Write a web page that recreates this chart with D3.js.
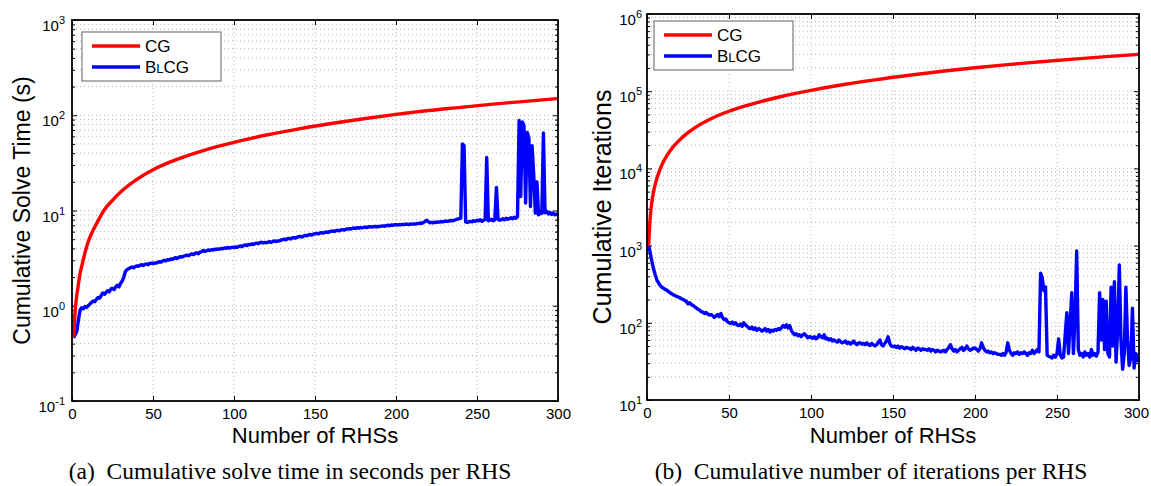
<!DOCTYPE html>
<html>
<head>
<meta charset="utf-8">
<script src="https://cdnjs.cloudflare.com/ajax/libs/d3/7.8.5/d3.min.js"></script>
<style>
body { margin: 0; background: #fff; }
svg { display: block; }
.axis text, .tick-label { font-family: "Liberation Sans", Arial, sans-serif; font-size: 15px; fill: #000; }
.axis path { display: none; }
.axis line { stroke: #000; stroke-width: 1; }
.grid line { stroke: #b4b4b4; stroke-width: 1; stroke-dasharray: 1,3; }
.label { font-family: "Liberation Sans", Arial, sans-serif; font-size: 22px; fill: #000; }
.legend text { font-family: "Liberation Sans", Arial, sans-serif; font-size: 17px; fill: #000; }
.caption { font-family: "Liberation Serif", "Times New Roman", serif; font-size: 23.5px; fill: #000; }
.line { fill: none; stroke-width: 3.4; stroke-linejoin: round; }
</style>
</head>
<body>
<svg width="1151" height="486"></svg>
<script>
"use strict";

var xTicks = [0, 50, 100, 150, 200, 250, 300];

// CG curves are smooth, sampled at these RHS counts
var cgRhs = [1, 2, 3, 4, 5, 6, 8, 10, 12, 15, 20, 25, 30, 40, 50, 60, 70, 80, 90, 100,
    120, 140, 160, 180, 200, 220, 240, 260, 280, 300];

var cgTime = [0.47, 0.9, 1.3, 1.7, 2.2, 2.6, 3.6, 4.7, 5.7, 7.2, 10.2, 12.8, 15.6, 21.2, 26.8, 32, 37, 42, 47, 52,
    62, 72, 82, 92, 102, 112, 121, 131, 140, 150];

var cgIter = [1000, 2400, 3700, 5000, 6200, 7400, 9800, 12200, 14500, 18000, 23500, 29000, 34500, 45000, 55000,
    64500, 74000, 83500, 93000, 102500, 122000, 141500, 161000, 181000, 201000, 221000, 241000, 260500, 280000, 300000];

// BlCG: one value per RHS (1..300)
var blcgTime = [
    0.46, 0.50, 0.54, 0.72, 0.90, 0.95, 0.93, 0.98, 0.96, 1.00,
    1.04, 1.08, 1.12, 1.10, 1.16, 1.22, 1.20, 1.28, 1.36, 1.32,
    1.38, 1.44, 1.40, 1.50, 1.52, 1.48, 1.58, 1.64, 1.58, 1.72,
    1.82, 2.00, 2.30, 2.40, 2.45, 2.50, 2.55, 2.50, 2.58, 2.62,
    2.60, 2.66, 2.70, 2.64, 2.72, 2.75, 2.70, 2.78, 2.80, 2.76,
    2.82, 2.80, 2.86, 2.90, 2.88, 2.95, 3.00, 2.96, 3.05, 3.02,
    3.10, 3.06, 3.15, 3.20, 3.14, 3.22, 3.28, 3.24, 3.32, 3.36,
    3.40, 3.35, 3.45, 3.50, 3.44, 3.55, 3.60, 3.52, 3.65, 3.70,
    3.80, 3.72, 3.78, 3.85, 3.80, 3.88, 3.84, 3.92, 3.90, 3.95,
    3.92, 4.00, 3.96, 4.05, 4.00, 4.10, 4.02, 4.08, 4.12, 4.07,
    4.15, 4.10, 4.20, 4.25, 4.18, 4.30, 4.35, 4.28, 4.40, 4.36,
    4.45, 4.40, 4.50, 4.55, 4.48, 4.60, 4.65, 4.56, 4.62, 4.58,
    4.66, 4.70, 4.62, 4.75, 4.80, 4.72, 4.78, 4.80, 4.88, 4.95,
    5.00, 4.92, 5.05, 5.10, 5.02, 5.15, 5.20, 5.12, 5.25, 5.30,
    5.35, 5.28, 5.40, 5.50, 5.42, 5.55, 5.60, 5.52, 5.65, 5.70,
    5.75, 5.68, 5.80, 5.85, 5.78, 5.90, 5.95, 5.88, 6.00, 6.05,
    6.10, 6.02, 6.15, 6.20, 6.12, 6.25, 6.30, 6.22, 6.35, 6.40,
    6.45, 6.38, 6.50, 6.55, 6.48, 6.60, 6.52, 6.62, 6.58, 6.65,
    6.70, 6.62, 6.72, 6.78, 6.70, 6.75, 6.80, 6.72, 6.82, 6.80,
    6.85, 6.90, 6.82, 6.95, 7.00, 6.92, 7.05, 7.00, 7.08, 7.10,
    7.05, 7.12, 7.08, 7.15, 7.10, 7.18, 7.20, 7.12, 7.22, 7.20,
    7.25, 7.20, 7.30, 7.28, 7.40, 7.35, 7.50, 7.70, 7.90, 7.60,
    7.45, 7.50, 7.42, 7.55, 7.50, 7.60, 7.55, 7.65, 7.62, 7.70,
    7.75, 7.68, 7.80, 7.85, 7.78, 7.90, 8.00, 8.10, 8.20, 8.30,
    50, 48, 7.6, 7.5, 7.6, 7.7, 7.6, 7.8, 7.7, 7.9,
    7.8, 8.0, 7.7, 7.9, 8.0, 36, 7.8, 7.9, 8.1, 7.8,
    8.0, 17.5, 8.1, 7.9, 8.0, 8.2, 8.0, 8.3, 8.1, 8.2,
    8.4, 8.2, 8.5, 8.3, 8.6, 88, 14, 85, 78, 12,
    66, 58, 11, 48, 24, 9.4, 20, 9.0, 9.6, 9.3,
    65, 9.5, 9.8, 9.2, 9.6, 9.1, 9.4, 9.0, 9.2, 8.9
];

var blcgIter = [
    1000, 800, 620, 500, 420, 360, 330, 305, 290, 280,
    272, 265, 255, 245, 238, 230, 226, 220, 216, 212,
    205, 200, 196, 188, 176, 182, 172, 168, 162, 156,
    150, 146, 140, 138, 132, 136, 130, 126, 128, 124,
    118, 122, 128, 120, 132, 118, 110, 112, 104, 100,
    98, 102, 96, 100, 94, 92, 96, 90, 100, 94,
    90, 86, 84, 88, 82, 86, 80, 84, 82, 78,
    80, 84, 78, 82, 76, 80, 78, 82, 80, 84,
    82, 86, 92, 88, 94, 86, 92, 80, 74, 70,
    72, 68, 70, 66, 70, 72, 68, 64, 66, 65,
    63, 66, 62, 64, 70, 66, 64, 70, 62, 63,
    60, 62, 58, 60, 58, 56, 60, 57, 55, 56,
    58, 54, 56, 53, 55, 58, 54, 52, 55, 55,
    53, 54, 52, 55, 52, 51, 54, 52, 50, 52,
    56, 60, 52, 50, 54, 58, 66, 54, 50, 49,
    50, 48, 50, 47, 49, 48, 46, 48, 47, 47,
    45, 48, 46, 44, 47, 46, 44, 46, 45, 45,
    44, 46, 43, 45, 44, 42, 44, 43, 42, 43,
    44, 42, 45, 48, 52, 46, 43, 45, 42, 44,
    46, 48, 44, 46, 50, 46, 44, 45, 47, 47,
    45, 43, 46, 55, 48, 44, 42, 43, 41, 42,
    40, 41, 40, 39, 39, 38, 40, 38, 42, 55,
    44, 40, 38, 41, 40, 42, 39, 41, 40, 42,
    40, 38, 41, 40, 44, 40, 42, 45, 42, 440,
    380, 260, 290, 38, 37, 36, 35, 38, 36, 40,
    62, 38, 35, 36, 70, 135, 40, 100, 245, 40,
    120, 850, 45, 38, 40, 36, 42, 38, 40, 36,
    45, 38, 40, 37, 42, 245, 60, 200, 45, 190,
    40, 36, 290, 50, 340, 31, 80, 560, 60, 25,
    40, 290, 60, 28, 35, 155, 26, 40, 33, 31
];

var timeMajor = [-1, 0, 1, 2, 3];
var iterMajor = [1, 2, 3, 4, 5, 6];

function toPoints(rhs, values) {
    return values.map(function (v, i) {
        return { rhs: rhs ? rhs[i] : i + 1, value: v };
    });
}

function drawPanel(svg, p) {
    var g = svg.append("g").attr("transform", "translate(" + p.left + ", " + p.top + ")");
    var width = p.width;
    var height = p.height;

    var x = d3.scaleLinear().domain([0, 300]).range([0, width]);
    var y = d3.scaleLog().domain([Math.pow(10, p.exps[0]), Math.pow(10, p.exps[p.exps.length - 1])]).range([height, 0]);

    var majors = p.exps.map(function (e) { return Math.pow(10, e); });
    var minors = y.ticks().filter(function (t) {
        return Math.abs(Math.log10(t) - Math.round(Math.log10(t))) > 1e-6;
    });

    // dotted grid
    var grid = g.append("g").attr("class", "grid");
    grid.selectAll("line.h").data(y.ticks().filter(function (t) {
        return y(t) > 0.5 && y(t) < height - 0.5;
    })).enter().append("line").attr("class", "h")
        .attr("x1", 0).attr("x2", width)
        .attr("y1", function (d) { return y(d); }).attr("y2", function (d) { return y(d); });
    grid.selectAll("line.v").data(xTicks.slice(1, -1)).enter().append("line").attr("class", "v")
        .attr("y1", 0).attr("y2", height)
        .attr("x1", function (d) { return x(d); }).attr("x2", function (d) { return x(d); });

    // axes with inward ticks
    var xAxis = g.append("g").attr("class", "axis axis--x").attr("transform", "translate(0, " + height + ")")
        .call(d3.axisBottom(x).tickValues(xTicks).tickSize(-5).tickPadding(7).tickFormat(d3.format("d")));
    xAxis.selectAll(".tick text").filter(function (d) { return d === 300; }).attr("dx", p.lastTickShift);
    g.append("g").attr("class", "axis")
        .call(d3.axisTop(x).tickValues(xTicks).tickSize(-5).tickFormat(""));
    g.append("g").attr("class", "axis")
        .call(d3.axisLeft(y).tickValues(majors).tickSize(-5).tickFormat(""));
    g.append("g").attr("class", "axis")
        .call(d3.axisLeft(y).tickValues(minors).tickSize(-3).tickFormat(""));
    g.append("g").attr("class", "axis").attr("transform", "translate(" + width + ", 0)")
        .call(d3.axisRight(y).tickValues(majors).tickSize(-5).tickFormat(""));
    g.append("g").attr("class", "axis").attr("transform", "translate(" + width + ", 0)")
        .call(d3.axisRight(y).tickValues(minors).tickSize(-3).tickFormat(""));

    // y tick labels as 10^e
    var yl = g.append("g").selectAll("text").data(p.exps).enter().append("text")
        .attr("class", "tick-label")
        .attr("text-anchor", "end")
        .attr("x", -p.yTickGap)
        .attr("y", function (e) { return y(Math.pow(10, e)) + 11; });
    yl.append("tspan").text("10");
    yl.append("tspan").attr("dy", -7).style("font-size", "11px").text(function (e) { return e; });

    // series
    var line = d3.line()
        .x(function (d) { return x(d.rhs); })
        .y(function (d) { return y(d.value); });

    g.append("path").datum(toPoints(null, p.blue)).attr("class", "line")
        .attr("stroke", "#0000ff").attr("d", line);
    g.append("path").datum(toPoints(cgRhs, p.red)).attr("class", "line")
        .attr("stroke", "#ff0000").attr("d", line.curve(d3.curveMonotoneX));

    // box
    g.append("rect").attr("width", width).attr("height", height)
        .attr("fill", "none").attr("stroke", "#000").attr("stroke-width", 1.8);

    // legend
    var lg = g.append("g").attr("class", "legend").attr("transform", "translate(" + p.legend[0] + ", " + p.legend[1] + ")");
    lg.append("rect").attr("width", 139).attr("height", 49)
        .attr("fill", "#fff").attr("stroke", "#7a7a7a").attr("stroke-width", 1.2);
    [["#ff0000", 14], ["#0000ff", 35]].forEach(function (item) {
        lg.append("line").attr("x1", 10).attr("x2", 58).attr("y1", item[1]).attr("y2", item[1])
            .attr("stroke", item[0]).attr("stroke-width", 3.4);
    });
    lg.append("text").attr("x", 63).attr("y", 20).text("CG");
    var bl = lg.append("text").attr("x", 63).attr("y", 41);
    bl.append("tspan").text("B");
    bl.append("tspan").style("font-size", "13px").text("L");
    bl.append("tspan").text("CG");

    // axis labels
    svg.append("text").attr("class", "label").attr("text-anchor", "middle")
        .attr("x", p.left + width / 2).attr("y", 443).text("Number of RHSs");
    svg.append("text").attr("class", "label").attr("text-anchor", "middle")
        .style("font-size", p.yLabelSize + "px")
        .attr("transform", "translate(" + p.yLabelX + ", " + (p.top + height / 2) + ") rotate(-90)")
        .text(p.yLabel);

    svg.append("text").attr("class", "caption").attr("text-anchor", "middle")
        .attr("x", p.captionX).attr("y", 479).attr("xml:space", "preserve").text(p.caption);
}

var svg = d3.select("svg");

drawPanel(svg, {
    left: 72, top: 20, width: 486, height: 381,
    exps: timeMajor, yTickGap: 7, lastTickShift: 0,
    red: cgTime, blue: blcgTime,
    legend: [10, 12],
    yLabel: "Cumulative Solve Time (s)", yLabelX: 30, yLabelSize: 23,
    caption: "(a)  Cumulative solve time in seconds per RHS", captionX: 290
});

drawPanel(svg, {
    left: 647, top: 14, width: 492, height: 386,
    exps: iterMajor, yTickGap: 5, lastTickShift: -3,
    red: cgIter, blue: blcgIter,
    legend: [7, 7],
    yLabel: "Cumulative Iterations", yLabelX: 611, yLabelSize: 25,
    caption: "(b)  Cumulative number of iterations per RHS", captionX: 871
});
</script>
</body>
</html>
